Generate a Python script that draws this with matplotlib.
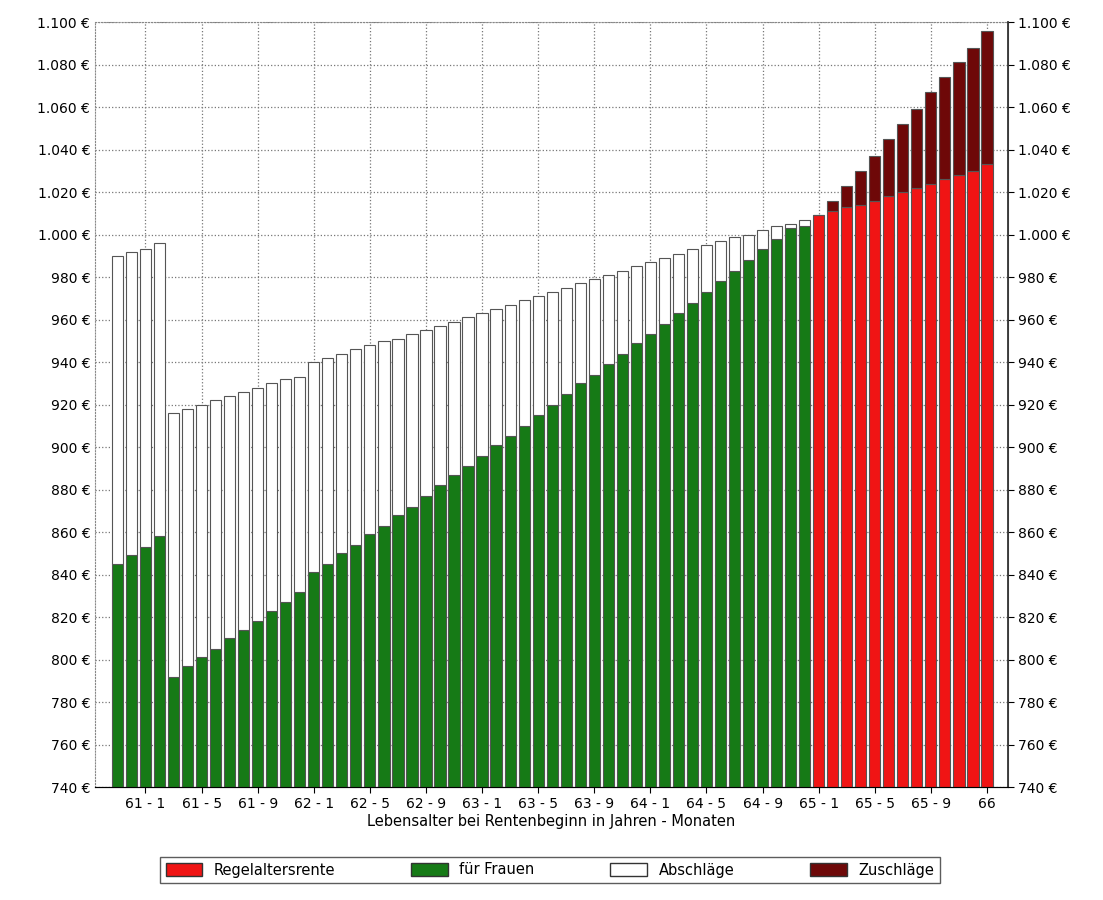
import matplotlib
matplotlib.use("Agg")
import matplotlib.pyplot as plt
from matplotlib.patches import Patch
import numpy as np

green_base = [845, 849, 853, 858,
              792, 797, 801, 805, 810, 814, 818, 823, 827, 832,
              841, 845, 850, 854, 859, 863, 868, 872, 877, 882,
              887, 891, 896, 901, 905, 910, 915, 920, 925, 930,
              934, 939, 944, 949, 953, 958, 963, 968, 973, 978,
              983, 988, 993, 998, 1003, 1004]
green_total = [990, 992, 993, 996,
               916, 918, 920, 922, 924, 926, 928, 930, 932, 933,
               940, 942, 944, 946, 948, 950, 951, 953, 955, 957,
               959, 961, 963, 965, 967, 969, 971, 973, 975, 977,
               979, 981, 983, 985, 987, 989, 991, 993, 995, 997,
               999, 1000, 1002, 1004, 1005, 1007]
red_base = [1009, 1011, 1013, 1014, 1016, 1018, 1020, 1022, 1024, 1026, 1028, 1030, 1033]
red_total = [1009, 1016, 1023, 1030, 1037, 1045, 1052, 1059, 1067, 1074, 1081, 1088, 1096]
tick_labels = ["61 - 1", "61 - 5", "61 - 9", "62 - 1", "62 - 5", "62 - 9", "63 - 1", "63 - 5",
               "63 - 9", "64 - 1", "64 - 5", "64 - 9", "65 - 1", "65 - 5", "65 - 9", "66"]
legend_labels = ["Regelaltersrente", "für Frauen", "Abschläge", "Zuschläge"]

C_RED, C_GREEN, C_WHITE, C_DARK = "#f01414", "#167a16", "#ffffff", "#6e0808"
EDGE = "#555555"
YMIN = 740

fig = plt.figure(figsize=(11.03, 9.0), dpi=100)
ax = fig.add_axes([95/1103, 113/900, 913/1103, 765/900])

ng, nr = len(green_base), len(red_base)
xg = np.arange(ng)
xr = np.arange(ng, ng + nr)
w = 0.8
gb = np.array(green_base); gt = np.array(green_total)
rb = np.array(red_base); rt = np.array(red_total)
ax.bar(xg, gb - YMIN, bottom=YMIN, width=w, color=C_GREEN, edgecolor=EDGE, lw=0.8, zorder=3)
ax.bar(xg, gt - gb, bottom=gb, width=w, color=C_WHITE, edgecolor=EDGE, lw=0.8, zorder=3)
ax.bar(xr, rb - YMIN, bottom=YMIN, width=w, color=C_RED, edgecolor=EDGE, lw=0.8, zorder=3)
ax.bar(xr, rt - rb, bottom=rb, width=w, color=C_DARK, edgecolor=EDGE, lw=0.8, zorder=3)

n = ng + nr
ax.set_xlim(-1.6, n + 0.5)
ax.set_ylim(YMIN, 1100)
ticks = list(range(2, 60, 4)) + [n - 1]
ax.set_xticks(ticks)
ax.set_xticklabels(tick_labels, fontsize=10)
yt = np.arange(740, 1101, 20)
ylab = [f"{v:,} €".replace(",", ".") for v in yt]
ax.set_yticks(yt)
ax.set_yticklabels(ylab, fontsize=10)
ax.tick_params(axis="y", length=0)
ax.tick_params(axis="x", length=4)
ax.grid(True, ls=":", color="#777777", lw=0.9, zorder=0)
for s in ax.spines.values():
    s.set_color("#888888")
ax.spines["top"].set_linestyle(":")
ax.spines["left"].set_linestyle(":")
ax.spines["bottom"].set_color("#333333")
ax2 = ax.twinx()
ax2.set_ylim(YMIN, 1100)
ax2.set_yticks(yt)
ax2.set_yticklabels(ylab, fontsize=10)
ax2.tick_params(axis="y", length=4)
ax2.spines["right"].set_color("#333333")
ax2.spines["right"].set_linewidth(1.3)
ax2.spines["top"].set_visible(False)
ax2.spines["left"].set_visible(False)
ax.set_xlabel("Lebensalter bei Rentenbeginn in Jahren - Monaten", fontsize=10.5, labelpad=2)

handles = [Patch(facecolor=c, edgecolor="#333333") for c in (C_RED, C_GREEN, C_WHITE, C_DARK)]
fig.legend(handles, legend_labels, loc="center", bbox_to_anchor=(550/1103, 1 - 870/900),
           ncol=4, fontsize=10.5, frameon=True, fancybox=False, edgecolor="#333333",
           handlelength=2.5, handleheight=1.0, columnspacing=5.2)
fig.savefig("out.png", dpi=100)
